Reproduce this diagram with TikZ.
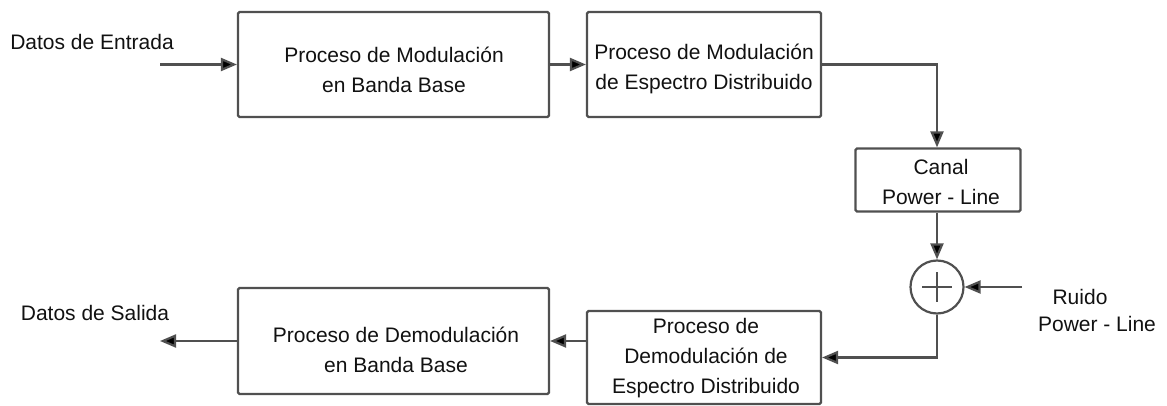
\documentclass[tikz,border=0pt]{standalone}
\usepackage{fontspec}
\setmainfont{Liberation Sans}
\usetikzlibrary{arrows.meta,calc}
\definecolor{edge}{HTML}{505050}
\definecolor{ink}{HTML}{111111}
\tikzset{
  blockbox/.style={draw=edge, line width=2.2pt, rounded corners=1.5pt, fill=white, inner sep=0pt},
  txt/.style={font=\fontsize{21}{30}\selectfont, text=ink, align=center, inner sep=0pt},
  conn/.style={draw=edge, line width=2.2pt, -{Triangle[length=16pt,width=13pt,fill=black]}},
  sumnode/.style={circle, draw=edge, line width=2.2pt, minimum size=53pt, inner sep=0pt}
}
\begin{document}
\begin{tikzpicture}[x=1pt,y=-1pt]
\useasboundingbox (0,0) rectangle (1167,406);
% blocks
\node[blockbox, minimum width=311pt, minimum height=105pt] (b1) at (393.5,64.5) {};
\node[blockbox, minimum width=234pt, minimum height=105pt] (b2) at (704,64.5) {};
\node[blockbox, minimum width=165pt, minimum height=63pt] (canal) at (938,180) {};
\node[sumnode] (sum) at (937,287) {};
\node[blockbox, minimum width=311pt, minimum height=106pt] (b3) at (393.5,341) {};
\node[blockbox, minimum width=234pt, minimum height=93pt] (b4) at (704,357.5) {};
% texts
\node[txt] (t1) at (394,70) {Proceso de Modulación\\en Banda Base};
\node[txt] (t2) at (704,69) {Proceso de Modulación\\de Espectro Distribuido};
\node[txt] (t3) at (941,182) {Canal\\Power - Line};
\node[txt] (t4) at (396,350) {Proceso de Demodulación\\en Banda Base};
\node[txt] (t5) at (706,358) {Proceso de\\Demodulación de\\Espectro Distribuido};
\node[txt] (tin) at (92,42) {Datos de Entrada};
\node[txt] (tout) at (95,313) {Datos de Salida};
\node[txt] (tr1) at (1080,297) {Ruido};
\node[txt] (tr2) at (1097,324) {Power - Line};
% plus sign
\draw[edge, line width=2pt] ($(sum.center)+(-15,0)$) -- ($(sum.center)+(15,0)$);
\draw[edge, line width=2pt] ($(sum.center)+(0,-15)$) -- ($(sum.center)+(0,15)$);
% free ends
\coordinate (inpt) at (160,64.5);
\coordinate (outpt) at (160,341);
\coordinate (noise) at (1022,287);
% connectors
\draw[conn] (inpt) -- (b1.west);
\draw[conn] (b1.east) -- (b2.west);
\draw[conn] (b2.east) -| (canal.north -| sum.north);
\draw[conn] (canal.south -| sum.north) -- (sum.north);
\draw[conn] (noise) -- (sum.east);
\draw[conn] (sum.south) |- (b4.east);
\draw[conn] (b4.west |- b3.east) -- (b3.east);
\draw[conn] (b3.west) -- (outpt);
\end{tikzpicture}
\end{document}
